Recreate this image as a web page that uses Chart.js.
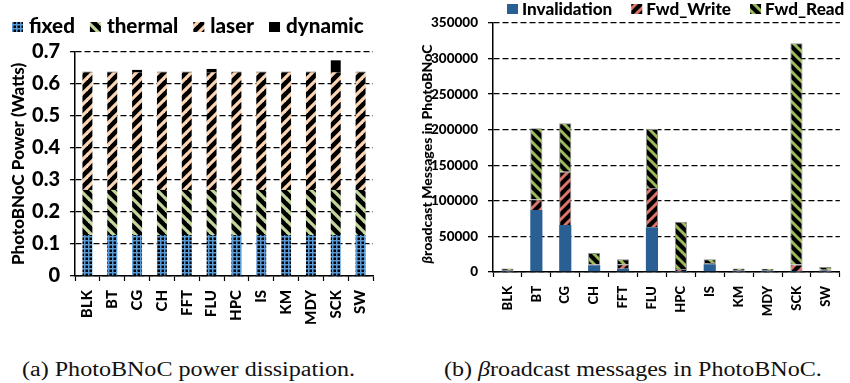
<!DOCTYPE html>
<html>
<head>
<meta charset="utf-8">
<script src="https://cdn.jsdelivr.net/npm/chart.js@4"></script>
<style>
  html, body { margin: 0; padding: 0; background: #fff; }
  #page { position: relative; width: 850px; height: 383px; overflow: hidden; }
  canvas { position: absolute; top: 0; }
  .caption { position: absolute; top: 358px; font-family: "Liberation Serif", serif; font-size: 20px;
             color: #111; white-space: nowrap; transform-origin: 0 0; }
</style>
</head>
<body>
<div id="page">
  <canvas id="power" style="left:0" width="420" height="335"></canvas>
  <canvas id="bcast" style="left:420px" width="430" height="335"></canvas>
  <div class="caption" id="capA">(a) PhotoBNoC power dissipation.</div>
  <div class="caption" id="capB">(b) <i>β</i>roadcast messages in PhotoBNoC.</div>
</div>
<script>
// Benchmarks on the x axis of both panels
const benchmarks = ['BLK', 'BT', 'CG', 'CH', 'FFT', 'FLU', 'HPC', 'IS', 'KM', 'MDY', 'SCK', 'SW'];

// Panel (a): power components in Watts
const fixedWatts   = [0.128, 0.128, 0.128, 0.128, 0.128, 0.128, 0.128, 0.128, 0.128, 0.128, 0.128, 0.128];
const thermalWatts = [0.141, 0.141, 0.141, 0.141, 0.141, 0.141, 0.141, 0.141, 0.141, 0.141, 0.141, 0.141];
const laserWatts   = [0.367, 0.367, 0.367, 0.367, 0.367, 0.367, 0.367, 0.367, 0.367, 0.367, 0.367, 0.367];
const dynamicWatts = [0.002, 0.002, 0.008, 0.002, 0.002, 0.011, 0.002, 0.002, 0.002, 0.002, 0.038, 0.002];

// Panel (b): broadcast message counts
const invalidationMsgs = [300, 87000, 66000, 9400, 4700, 63000, 300, 10800, 200, 200, 300, 300];
const fwdWriteMsgs     = [2500, 15000, 75000, 1400, 6100, 55000, 4000, 1900, 2600, 2500, 10100, 2700];
const fwdReadMsgs      = [2000, 100000, 68000, 16000, 7000, 83000, 66500, 5100, 2000, 2000, 311000, 4000];

// Axis ranges
const powerMax = 0.7, powerStep = 0.1;
const msgMax = 350000, msgStep = 50000;

const FONT = 'Lato, "Open Sans", sans-serif';
const WEIGHT = '900';

// Fill patterns
function stripePattern(bg, fg, period, width, dir) {
  const c = document.createElement('canvas');
  c.width = c.height = period;
  const g = c.getContext('2d');
  g.fillStyle = bg; g.fillRect(0, 0, period, period);
  g.strokeStyle = fg; g.lineWidth = width;
  for (const o of [-period, 0, period]) {
    g.beginPath();
    if (dir === '/') { g.moveTo(o - 1, period + 1); g.lineTo(o + period + 1, -1); }
    else { g.moveTo(o - 1, -1); g.lineTo(o + period + 1, period + 1); }
    g.stroke();
  }
  return g.createPattern(c, 'repeat');
}
function gridPattern(line, cell) {
  const c = document.createElement('canvas');
  c.width = c.height = 4;
  const g = c.getContext('2d');
  g.fillStyle = line; g.fillRect(0, 0, 4, 4);
  g.fillStyle = cell; g.fillRect(1.5, 1.5, 2.5, 2.5);
  return g.createPattern(c, 'repeat');
}

const fixedFill   = gridPattern('#5b9bd5', '#000');
const thermalFill = stripePattern('#000', '#c3d69b', 11, 3.2, '\\');
const laserFill   = stripePattern('#000', '#fcd5b4', 11, 3.2, '/');
const writeFill   = stripePattern('#000', '#e0736a', 10, 3, '/');
const readFill    = stripePattern('#000', '#9bbb59', 10, 3, '\\');

// Legend row drawn along the top of a panel
const boxLegend = {
  id: 'boxLegend',
  afterDraw(chart, args, o) {
    const ctx = chart.ctx;
    const sx = o.textScale || 1;
    ctx.save();
    ctx.font = o.font;
    ctx.textBaseline = 'alphabetic';
    let x = o.x;
    chart.data.datasets.forEach(ds => {
      ctx.fillStyle = ds.backgroundColor;
      ctx.fillRect(x, o.boxY, o.boxW, o.boxH);
      x += o.boxW + o.textGap;
      ctx.fillStyle = '#000';
      ctx.save();
      ctx.translate(x, o.baseline);
      ctx.scale(sx, 1);
      ctx.fillText(ds.label, 0, 0);
      ctx.restore();
      x += ctx.measureText(ds.label).width * sx + o.itemGap;
    });
    ctx.restore();
  }
};

// Vertical axis title with an italic leading beta
const sideTitle = {
  id: 'sideTitle',
  afterDraw(chart, args, o) {
    if (!o.parts) return;
    const ctx = chart.ctx;
    ctx.save();
    ctx.translate(o.x, o.y);
    ctx.rotate(-Math.PI / 2);
    ctx.textBaseline = 'middle';
    ctx.fillStyle = '#000';
    let total = 0;
    o.parts.forEach(p => { ctx.font = p.font; total += ctx.measureText(p.text).width; });
    let x = -total / 2;
    o.parts.forEach(p => { ctx.font = p.font; ctx.fillText(p.text, x, 0); x += ctx.measureText(p.text).width; });
    ctx.restore();
  }
};

function xAxis(size, height) {
  return {
    stacked: true,
    grid: { display: true, drawOnChartArea: false, drawTicks: true, tickLength: 5, tickColor: '#000', tickWidth: 1.2, offset: true },
    border: { display: true, color: '#000', width: 1.5 },
    ticks: { autoSkip: false, maxRotation: 90, minRotation: 90, padding: 9, color: '#000',
             font: { family: FONT, weight: WEIGHT, size: size } },
    afterFit(s) { s.height = height; }
  };
}
function yAxis(max, step, size, width, fmt) {
  return {
    stacked: true, min: 0, max: max,
    grid: { color: '#000', lineWidth: 1.3, tickLength: 5, tickColor: '#000', tickWidth: 1.3, tickBorderDash: [] },
    border: { display: true, color: '#000', width: 1.5, dash: [6, 3] },
    ticks: { stepSize: step, padding: 10, color: '#000', font: { family: FONT, weight: WEIGHT, size: size },
             callback: fmt },
    afterFit(s) { s.width = width; }
  };
}

const common = { responsive: false, animation: false, events: [] };

// Panel (a)
const powerY = yAxis(powerMax, powerStep, 20, 75, v => String(Math.round(v * 10) / 10));
powerY.title = { display: true, text: 'PhotoBNoC Power (Watts)', color: '#000',
                 font: { family: FONT, weight: WEIGHT, size: 17, lineHeight: 1.2 }, padding: { top: 8, bottom: 0 } };

new Chart(document.getElementById('power'), {
  type: 'bar',
  data: {
    labels: benchmarks,
    datasets: [
      { label: 'fixed',   data: fixedWatts,   backgroundColor: fixedFill },
      { label: 'thermal', data: thermalWatts, backgroundColor: thermalFill },
      { label: 'laser',   data: laserWatts,   backgroundColor: laserFill },
      { label: 'dynamic', data: dynamicWatts, backgroundColor: '#000' }
    ].map(d => Object.assign(d, { categoryPercentage: 1, barPercentage: 0.4, borderWidth: 0 }))
  },
  options: Object.assign({}, common, {
    layout: { padding: { top: 52, right: 47, left: 0, bottom: 0 } },
    scales: { x: xAxis(15, 59), y: powerY },
    plugins: {
      legend: { display: false }, tooltip: { enabled: false },
      boxLegend: { font: WEIGHT + ' 20px ' + FONT, textScale: 1.03, x: 12, boxW: 11, boxH: 10, boxY: 22,
                   textGap: 6, itemGap: 15, baseline: 33 }
    }
  }),
  plugins: [boxLegend]
});

// Panel (b)
new Chart(document.getElementById('bcast'), {
  type: 'bar',
  data: {
    labels: benchmarks,
    datasets: [
      { label: 'Invalidation', data: invalidationMsgs, backgroundColor: '#2a5f94', borderWidth: 0 },
      { label: 'Fwd_Write',    data: fwdWriteMsgs,     backgroundColor: writeFill, borderColor: '#8c8c8c', borderWidth: 1 },
      { label: 'Fwd_Read',     data: fwdReadMsgs,      backgroundColor: readFill,  borderColor: '#8c8c8c', borderWidth: 1 }
    ].map(d => Object.assign(d, { categoryPercentage: 1, barPercentage: 0.42 }))
  },
  options: Object.assign({}, common, {
    layout: { padding: { top: 23, right: 1, left: 0, bottom: 0 } },
    scales: { x: xAxis(13, 63), y: yAxis(msgMax, msgStep, 13.5, 73, v => String(v)) },
    plugins: {
      legend: { display: false }, tooltip: { enabled: false },
      boxLegend: { font: WEIGHT + ' 16px ' + FONT, textScale: 1.07, x: 87, boxW: 11, boxH: 10, boxY: 4,
                   textGap: 4, itemGap: 19, baseline: 15 },
      sideTitle: { x: 7, y: 154, parts: [
        { text: 'β', font: 'italic ' + WEIGHT + ' 14px ' + FONT },
        { text: 'roadcast Messages in PhotoBNoC', font: WEIGHT + ' 14px ' + FONT }
      ] }
    }
  }),
  plugins: [boxLegend, sideTitle]
});

// Captions share one type size: (a) spans 22..355, (b) ends at 822
(function () {
  const a = document.getElementById('capA'), b = document.getElementById('capB');
  const k = (355 - 22) / a.getBoundingClientRect().width;
  const wb = b.getBoundingClientRect().width * k;
  a.style.left = '22px';
  b.style.left = (822 - wb) + 'px';
  a.style.transform = b.style.transform = 'scaleX(' + k + ')';
})();
</script>
</body>
</html>
